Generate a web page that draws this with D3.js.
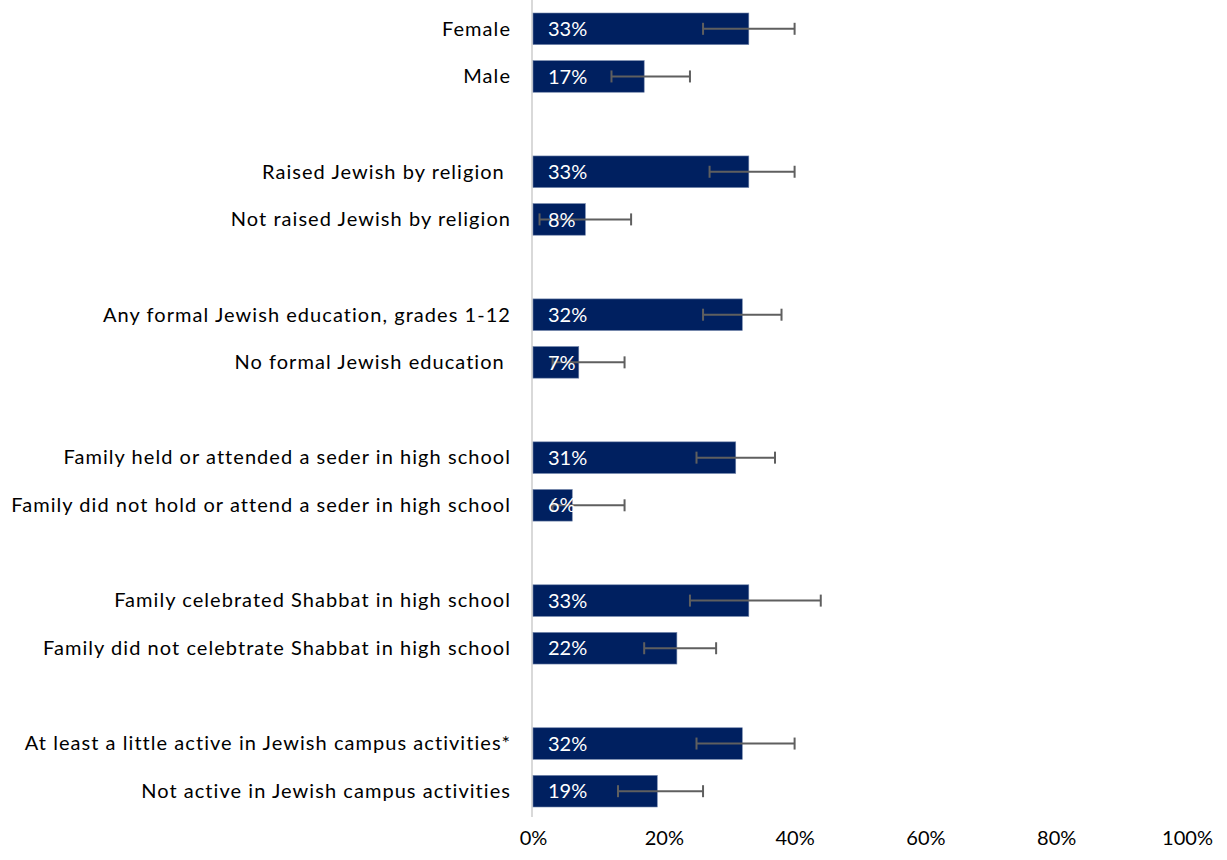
<!DOCTYPE html>
<html>
<head>
<meta charset="utf-8">
<script src="https://cdn.jsdelivr.net/npm/d3@7"></script>
<style>
  body { margin: 0; background: #fff; }
  text { font-family: Lato, "Open Sans", sans-serif; white-space: pre; }
</style>
</head>
<body>
<div id="chart"></div>
<script>
// categories, grouped in pairs with a blank slot between groups
const categories = [
    "Female", "Male",
    "Raised Jewish by religion ", "Not raised Jewish by religion",
    "Any formal Jewish education, grades 1-12", "No formal Jewish education ",
    "Family held or attended a seder in high school", "Family did not hold or attend a seder in high school",
    "Family celebrated Shabbat in high school", "Family did not celebtrate Shabbat in high school",
    "At least a little active in Jewish campus activities*", "Not active in Jewish campus activities"
];
const groups = [0, 0, 1, 1, 2, 2, 3, 3, 4, 4, 5, 5];
const values = [33, 17, 33, 8, 32, 7, 31, 6, 33, 22, 32, 19];
const errLow = [26, 12, 27, 1, 26, 3, 25, 3, 24, 17, 25, 13];
const errHigh = [40, 24, 40, 15, 38, 14, 37, 14, 44, 28, 40, 26];
const xTicks = [0, 20, 40, 60, 80, 100];

const width = 1227, height = 860;
const margin = {top: 5, right: 40, bottom: 45, left: 533};

const svg = d3.select('#chart')
    .append('svg')
        .attr('width', width)
        .attr('height', height);

const data = categories.map((c, i) => ({
    name: c, slot: i + groups[i], value: values[i], lo: errLow[i], hi: errHigh[i]
}));

const nSlots = d3.max(data, d => d.slot) + 1;

const x = d3.scaleLinear()
    .domain([0, 100])
    .range([margin.left, width - margin.right]);

const y = d3.scaleBand()
    .domain(d3.range(nSlots))
    .range([margin.top, height - margin.bottom])
    .paddingInner(0.337)
    .paddingOuter(0.168);

// vertical axis line
svg.append('line')
    .attr('x1', x(0) - 1).attr('x2', x(0) - 1)
    .attr('y1', 0).attr('y2', height - margin.bottom + 2)
    .attr('stroke', '#d9d9d9')
    .attr('stroke-width', 2);

// bars
svg.selectAll('.bar')
    .data(data)
    .enter().append('rect')
        .attr('x', x(0))
        .attr('y', d => y(d.slot))
        .attr('width', d => x(d.value) - x(0))
        .attr('height', y.bandwidth())
        .attr('fill', '#002060')
        .attr('stroke', '#6f83a8')
        .attr('stroke-width', 0.6);

// error bars
const err = svg.selectAll('.err')
    .data(data)
    .enter().append('g')
        .attr('stroke', '#5f5f5f')
        .attr('stroke-width', 2);
err.append('line')
    .attr('x1', d => x(d.lo)).attr('x2', d => x(d.hi))
    .attr('y1', d => y(d.slot) + y.bandwidth() / 2)
    .attr('y2', d => y(d.slot) + y.bandwidth() / 2);
err.selectAll('.cap')
    .data(d => [d.lo, d.hi].map(v => ({v: v, slot: d.slot})))
    .enter().append('line')
        .attr('x1', d => x(d.v)).attr('x2', d => x(d.v))
        .attr('y1', d => y(d.slot) + y.bandwidth() / 2 - 6)
        .attr('y2', d => y(d.slot) + y.bandwidth() / 2 + 6);

// value labels
svg.selectAll('.val')
    .data(data)
    .enter().append('text')
        .attr('x', x(0) + 15)
        .attr('y', d => y(d.slot) + y.bandwidth() / 2)
        .attr('dy', '0.36em')
        .attr('fill', '#fff')
        .style('font-size', '20px')
        .text(d => d.value + '%');

// category labels
svg.selectAll('.cat')
    .data(data)
    .enter().append('text')
        .attr('x', x(0) - 22)
        .attr('y', d => y(d.slot) + y.bandwidth() / 2)
        .attr('dy', '0.34em')
        .attr('text-anchor', 'end')
        .attr('fill', '#000')
        .style('font-size', '20px')
        .style('letter-spacing', '1.05px')
        .text(d => d.name);

// x axis labels
const xAxis = svg.append('g')
    .attr('transform', `translate(0, ${height - 15})`)
    .call(d3.axisBottom(x).tickValues(xTicks).tickFormat(d => d + '%').tickSize(0));
xAxis.select('.domain').remove();
xAxis.selectAll('text')
    .attr('y', 0)
    .attr('dy', '0')
    .attr('fill', '#000')
    .style('font-family', 'Lato, "Open Sans", sans-serif')
    .style('font-size', '20px');
</script>
</body>
</html>
